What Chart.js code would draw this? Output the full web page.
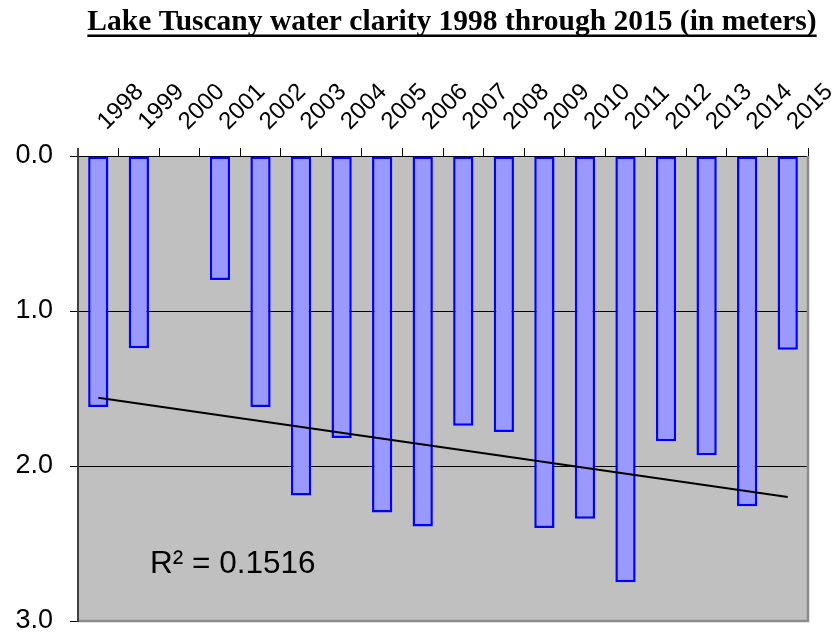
<!DOCTYPE html>
<html>
<head>
<meta charset="utf-8">
<script src="https://cdn.jsdelivr.net/npm/chart.js@4/dist/chart.umd.min.js"></script>
<style>
  html, body { margin: 0; padding: 0; background: #fff; }
  #wrap { width: 840px; height: 633px; }
</style>
</head>
<body>
<div id="wrap"><canvas id="c" width="840" height="633"></canvas></div>
<script>
const years = ['1998','1999','2000','2001','2002','2003','2004','2005','2006','2007','2008','2009','2010','2011','2012','2013','2014','2015'];
const clarity = [1.62, 1.24, null, 0.80, 1.62, 2.19, 1.82, 2.30, 2.39, 1.74, 1.78, 2.40, 2.34, 2.75, 1.84, 1.93, 2.26, 1.25];
const trendYears = ['1998', '2015'];
const trendValues = [1.56, 2.20];
const yTickValues = [0, 1, 2, 3];
const titleText = 'Lake Tuscany water clarity 1998 through 2015 (in meters)';
const r2Text = 'R\u00B2 = 0.1516';

const SANS = "'Liberation Sans', Arial, sans-serif";
const SERIF = "'Liberation Serif', 'Times New Roman', serif";

const decor = {
  id: 'decor',
  beforeDraw(chart) {
    const a = chart.chartArea, ctx = chart.ctx;
    ctx.save();
    ctx.fillStyle = '#C0C0C0';
    ctx.fillRect(a.left, a.top, a.right - a.left, a.bottom - a.top);
    ctx.restore();
  },
  afterDraw(chart) {
    const a = chart.chartArea, ctx = chart.ctx;
    ctx.save();
    ctx.strokeStyle = '#8C8C8C';
    ctx.lineWidth = 2.5;
    ctx.beginPath();
    ctx.moveTo(a.right, a.top);
    ctx.lineTo(a.right, a.bottom);
    ctx.lineTo(a.left, a.bottom);
    ctx.stroke();
    ctx.strokeStyle = '#404040';
    ctx.lineWidth = 2;
    ctx.beginPath();
    ctx.moveTo(a.left, a.top - 8);
    ctx.lineTo(a.left, a.bottom + 1);
    ctx.stroke();
    ctx.fillStyle = '#000';
    ctx.font = '31.5px ' + SANS;
    ctx.textAlign = 'left';
    ctx.textBaseline = 'middle';
    ctx.fillText(r2Text, 150, 564);
    ctx.font = 'bold 29.5px ' + SERIF;
    ctx.textAlign = 'center';
    ctx.textBaseline = 'alphabetic';
    const cx = 452;
    ctx.fillText(titleText, cx, 30);
    const w = ctx.measureText(titleText).width;
    ctx.fillRect(cx - w / 2, 34.5, w, 2.5);
    ctx.restore();
  }
};

new Chart(document.getElementById('c'), {
  data: {
    labels: years,
    datasets: [
      {
        type: 'line',
        data: trendYears.map((yr, i) => ({ x: yr, y: trendValues[i] })),
        borderColor: '#000',
        borderWidth: 2,
        pointRadius: 0,
        fill: false,
        order: 0
      },
      {
        type: 'bar',
        data: clarity,
        backgroundColor: '#9999FF',
        borderColor: '#0000FF',
        borderWidth: 2.5,
        borderSkipped: false,
        barPercentage: 0.5,
        categoryPercentage: 1.0,
        order: 1
      }
    ]
  },
  options: {
    responsive: false,
    animation: false,
    layout: { padding: { left: 0, right: 32, top: 0, bottom: 12 } },
    plugins: { legend: { display: false }, tooltip: { enabled: false }, title: { display: false } },
    scales: {
      x: {
        type: 'category',
        position: 'top',
        offset: true,
        grid: { offset: true, drawOnChartArea: false, drawTicks: true, tickLength: 8, color: '#000', lineWidth: 1 },
        border: { display: true, color: '#000', width: 1 },
        ticks: {
          minRotation: 45, maxRotation: 45, autoSkip: false,
          font: { family: SANS, size: 24 }, color: '#000', padding: 12, labelOffset: 24
        },
        afterFit(scale) {
          scale.height = 156;
          scale.paddingLeft = 0;
          scale.paddingRight = 0;
        }
      },
      y: {
        type: 'linear',
        reverse: true,
        min: 0,
        max: 3,
        afterBuildTicks(scale) {
          scale.ticks = yTickValues.map(v => ({ value: v }));
        },
        grid: { color: '#000', lineWidth: 1, tickLength: 8, drawTicks: true },
        border: { display: false },
        ticks: {
          font: { family: SANS, size: 27 }, color: '#000', padding: 17,
          callback: v => Number(v).toFixed(1)
        },
        afterFit(scale) {
          scale.width = 78;
          scale.paddingTop = 0;
          scale.paddingBottom = 0;
        }
      }
    }
  },
  plugins: [decor]
});
</script>
</body>
</html>
